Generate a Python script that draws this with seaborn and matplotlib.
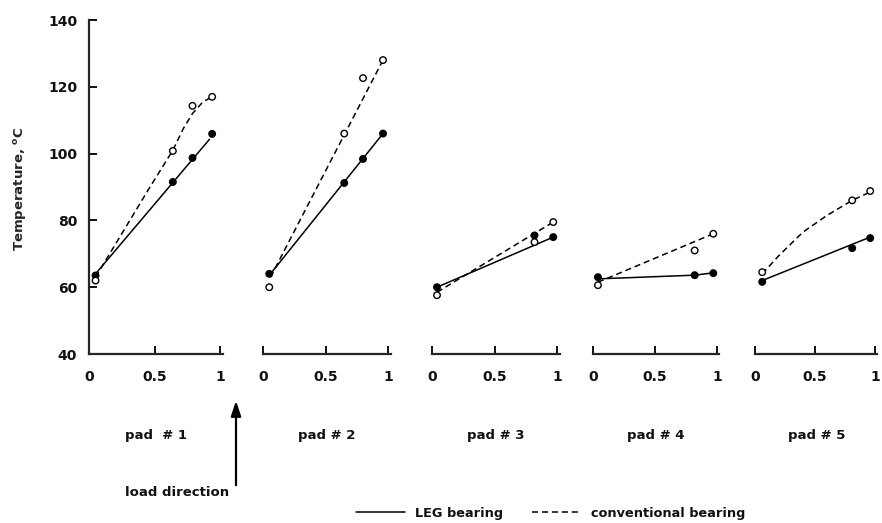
import pandas as pd
import seaborn as sns
import matplotlib.pyplot as plt
from matplotlib.lines import Line2D

# Measured pad temperatures vs. relative position on pad
pad_names = ["pad  # 1", "pad # 2", "pad # 3", "pad # 4", "pad # 5"]
sensor_x = [
    [0.05, 0.64, 0.79, 0.94],
    [0.05, 0.65, 0.80, 0.96],
    [0.04, 0.82, 0.97],
    [0.04, 0.82, 0.97],
    [0.06, 0.81, 0.96],
]
leg_temp = [
    [63.5, 91.5, 98.7, 105.9],
    [64.0, 91.2, 98.4, 106.0],
    [60.0, 75.5, 75.0],
    [63.0, 63.6, 64.2],
    [61.6, 71.7, 74.7],
]
conv_temp = [
    [62.0, 100.8, 114.3, 117.0],
    [60.0, 106.0, 122.6, 128.0],
    [57.6, 73.5, 79.5],
    [60.6, 71.0, 76.0],
    [64.5, 86.0, 88.8],
]

# Fitted curves
leg_fit_x = [[0.05, 0.92], [0.06, 0.96], [0.04, 0.97], [0.04, 0.82, 0.97], [0.06, 0.96]]
leg_fit_temp = [[64, 104.3], [64, 106], [60, 75], [62.5, 63.6, 64.3], [62, 75]]
conv_fit_x = [[0.05, 0.25, 0.45, 0.64, 0.72, 0.79, 0.87, 0.94],
              [0.06, 0.96], [0.04, 0.97], [0.04, 0.97],
              [0.06, 0.2, 0.4, 0.6, 0.81, 0.96]]
conv_fit_temp = [[63, 76, 89, 101, 107.5, 112, 115.5, 117],
                 [63, 128], [58.5, 79.5], [61.5, 76],
                 [64, 69.5, 76.5, 81.5, 86, 88.5]]

LEG = "LEG bearing"
CONV = "conventional bearing"

rows, fits = [], []
for i in range(len(pad_names)):
    for x, t in zip(sensor_x[i], leg_temp[i]):
        rows.append((i, LEG, x, t))
    for x, t in zip(sensor_x[i], conv_temp[i]):
        rows.append((i, CONV, x, t))
    for x, t in zip(leg_fit_x[i], leg_fit_temp[i]):
        fits.append((i, LEG, x, t))
    for x, t in zip(conv_fit_x[i], conv_fit_temp[i]):
        fits.append((i, CONV, x, t))
pts = pd.DataFrame(rows, columns=["pad", "bearing", "pos", "temp"])
fit = pd.DataFrame(fits, columns=["pad", "bearing", "pos", "temp"])

sns.set_style("ticks")
plt.rcParams["font.family"] = ["DejaVu Sans"]
plt.rcParams["font.weight"] = "bold"
plt.rcParams["text.color"] = "#111111"

W, H = 882, 523
fig = plt.figure(figsize=(W / 100, H / 100), dpi=100)

left_px = [89, 263, 432, 593, 755]
unit_px = [131, 125, 125, 124, 120]
bottom = 1 - 354 / H
height = 334 / H
dash = (4, 2.5)

axes = []
for i in range(5):
    ax = fig.add_axes([left_px[i] / W, bottom, unit_px[i] * 1.02 / W, height])
    axes.append(ax)
    sub_fit = fit[fit["pad"] == i]
    sns.lineplot(data=sub_fit, x="pos", y="temp", style="bearing",
                 dashes={LEG: "", CONV: dash}, color="black", lw=1.1,
                 estimator=None, sort=False, legend=False, ax=ax)
    sub_pts = pts[pts["pad"] == i]
    sns.scatterplot(data=sub_pts, x="pos", y="temp", hue="bearing",
                    palette={LEG: "black", CONV: "white"}, edgecolor="black",
                    linewidth=1, s=22, legend=False, zorder=3, ax=ax)
    ax.set_xlim(0, 1.02)
    ax.set_ylim(40, 140)
    ax.set_xticks([0, 0.5, 1])
    ax.set_xticklabels(["0", "0.5", "1"])
    ax.set_xlabel("")
    ax.set_ylabel("")
    ax.tick_params(axis="x", direction="in", length=6, width=1.4, pad=11.5,
                   labelsize=10, colors="#111111")
    for s in ["top", "right"]:
        ax.spines[s].set_visible(False)
    ax.spines["bottom"].set_linewidth(1.6)
    ax.patch.set_alpha(0)
    ax.text(0.5, -0.243, pad_names[i], transform=ax.transAxes,
            ha="center", va="center", fontsize=9.5, fontweight="bold")
    if i == 0:
        ax.set_yticks(range(40, 141, 20))
        ax.tick_params(axis="y", direction="in", length=6, width=1.4, pad=8.5,
                       labelsize=10, colors="#111111")
        ax.spines["left"].set_linewidth(1.6)
        ax.set_ylabel("Temperature, $^{\\mathbf{o}}$C", fontsize=9.5,
                      fontweight="bold", va="center")
        ax.yaxis.set_label_coords(-0.515, 0.494)
    else:
        ax.spines["left"].set_visible(False)
        ax.set_yticks([])

# load direction arrow
axes[0].annotate("", xy=(236 / W, 1 - 398 / H), xytext=(236 / W, 1 - 488 / H),
                 xycoords="figure fraction", textcoords="figure fraction",
                 arrowprops=dict(arrowstyle="-|>,head_length=0.9,head_width=0.3",
                                 color="black", lw=1.6))
fig.text(229 / W, 1 - 492 / H, "load direction", ha="right", va="center",
         fontsize=9.5, fontweight="bold")

handles = [Line2D([], [], color="black", lw=1.1),
           Line2D([], [], color="black", lw=1.1, dashes=dash)]
fig.legend(handles, [LEG, CONV], loc="center left",
           bbox_to_anchor=(356 / W, 1 - 513 / H), ncol=2, frameon=False,
           borderpad=0, borderaxespad=0, handlelength=3.8, handletextpad=0.8,
           columnspacing=2.2, prop={"size": 9.3, "weight": "bold"})

plt.savefig("out.png", dpi=100)
plt.close()
